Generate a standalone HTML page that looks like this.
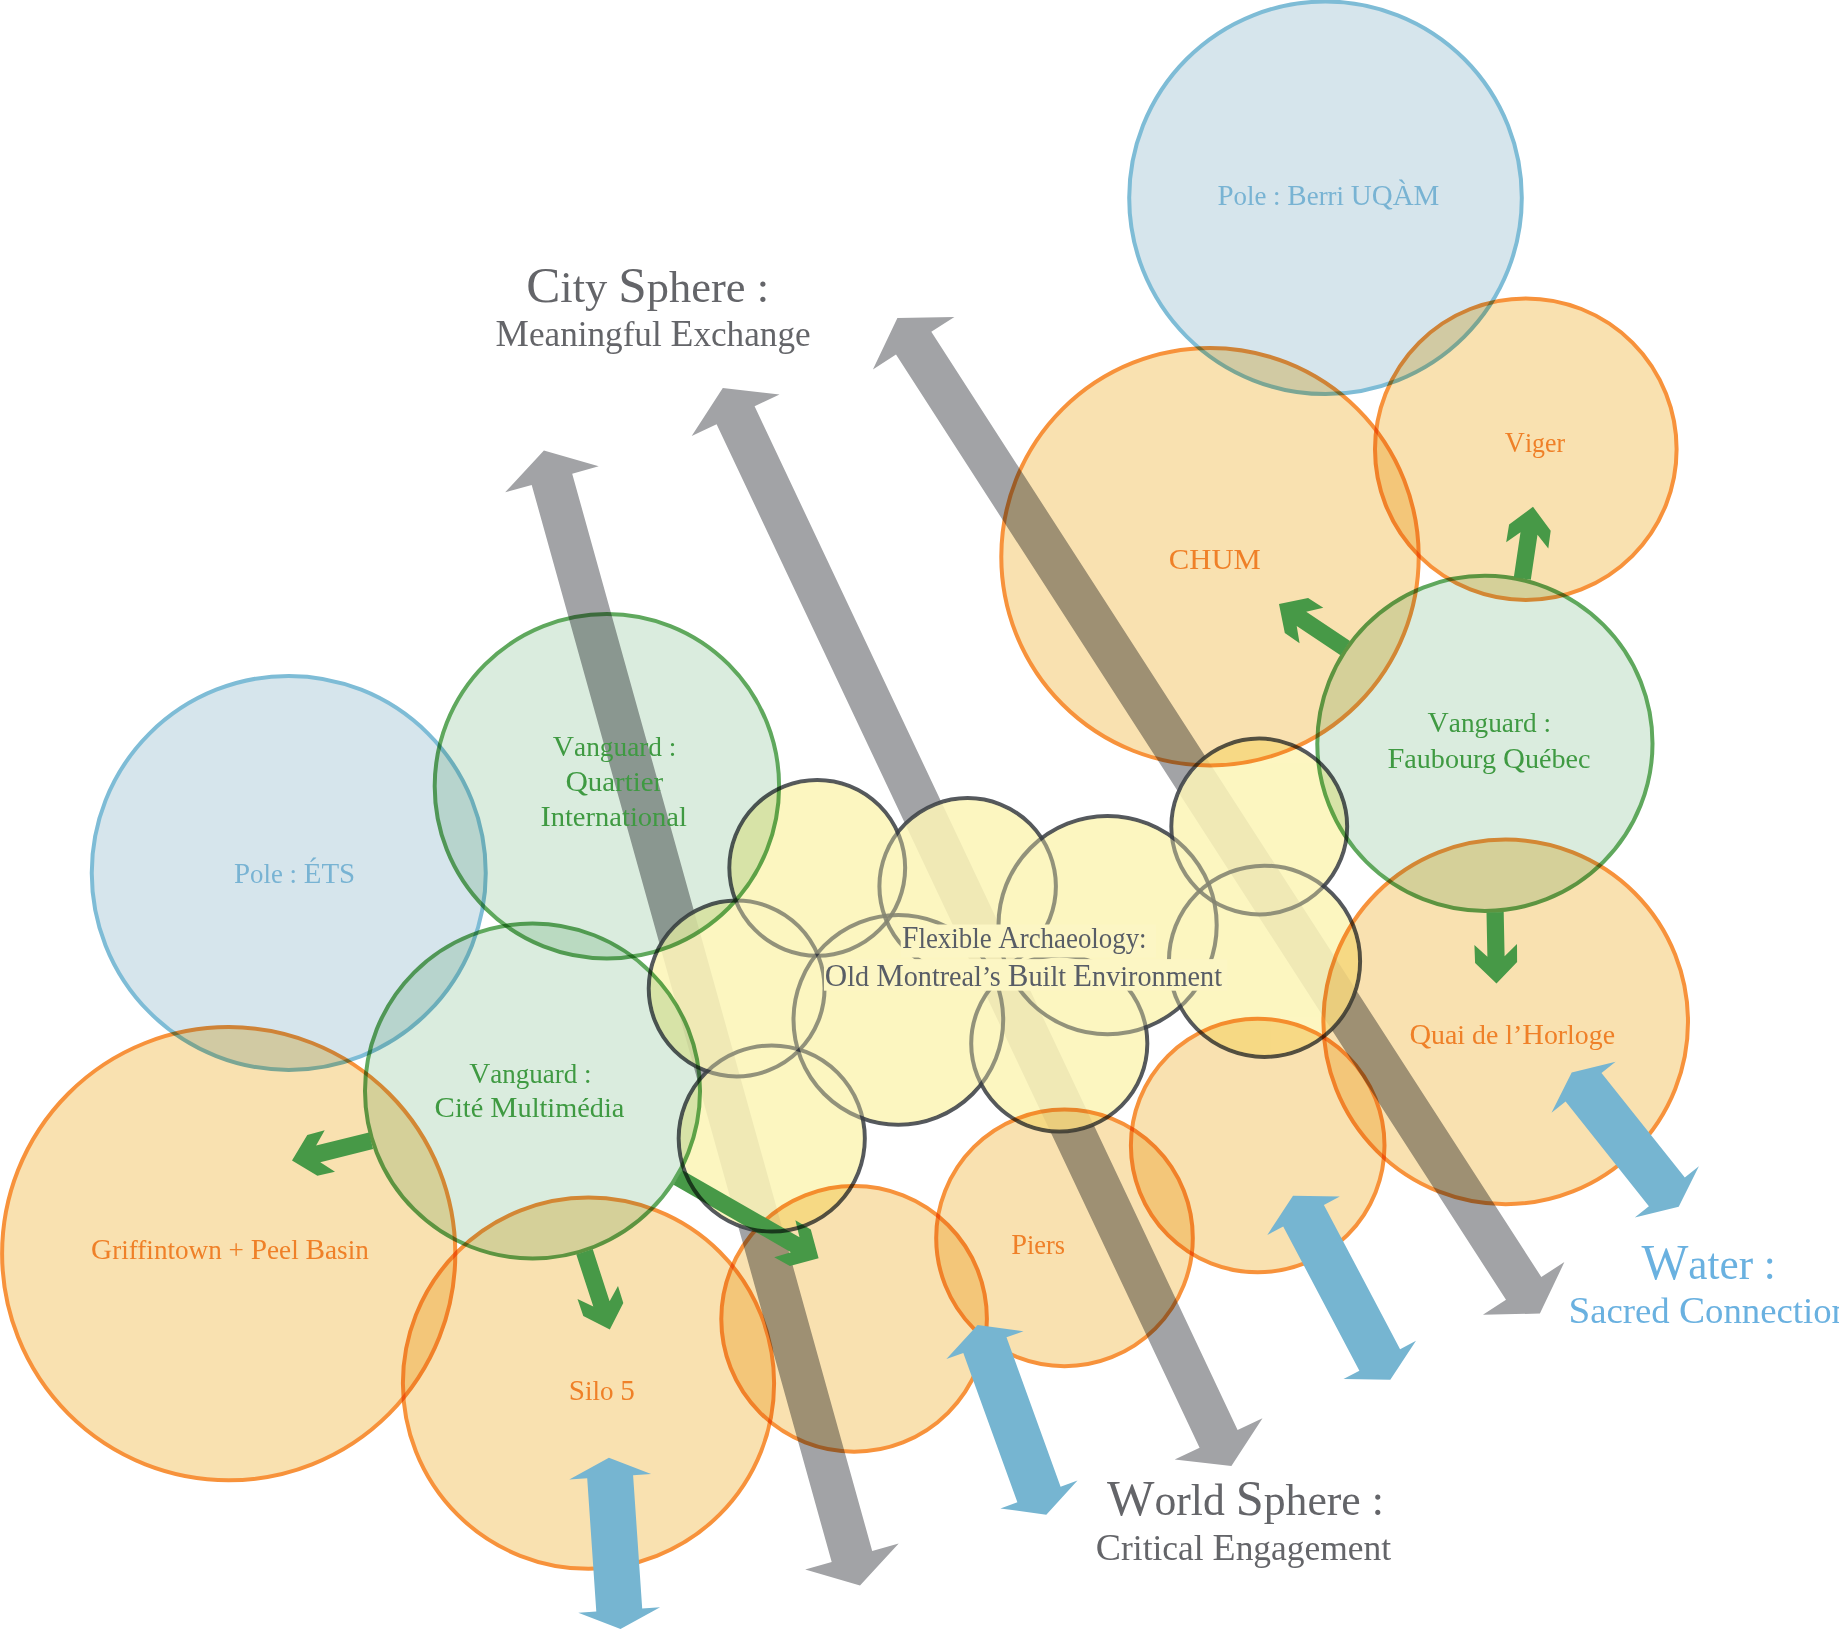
<!DOCTYPE html>
<html><head><meta charset="utf-8"><title>Flexible Archaeology</title>
<style>html,body{margin:0;padding:0;background:#fff;overflow:hidden}svg{display:block}</style></head>
<body><svg width="1839" height="1646" viewBox="0 0 1839 1646" font-family="'Liberation Serif', serif"><rect width="1839" height="1646" fill="#fff"/>
<polygon points="543.9,450.4 505.2,492.3 531.7,484.9 831.7,1562.1 805.2,1569.5 860.0,1585.4 898.7,1543.5 872.2,1550.9 572.2,473.7 598.7,466.3" fill="#A2A3A6"/>
<polygon points="722.8,388.1 691.7,435.9 716.6,424.2 1199.6,1447.8 1174.7,1459.6 1231.4,1466.0 1262.5,1418.2 1237.6,1429.9 754.6,406.3 779.5,394.5" fill="#A2A3A6"/>
<polygon points="897.4,318.0 872.9,369.5 896.0,354.6 1506.0,1299.8 1482.9,1314.7 1539.9,1313.6 1564.4,1262.1 1541.3,1277.0 931.3,331.8 954.4,316.9" fill="#A2A3A6"/>
<g opacity="0.79"><circle cx="817.25" cy="867.8" r="87.9" fill="#FCF5B8"/><circle cx="967.65" cy="886.35" r="88.25" fill="#FCF5B8"/><circle cx="1107.6" cy="925.15" r="109.1" fill="#FCF5B8"/><circle cx="1259.25" cy="826.5" r="87.9" fill="#FCF5B8"/><circle cx="1264.5" cy="961.3" r="95.6" fill="#FCF5B8"/><circle cx="736.65" cy="988.5" r="87.9" fill="#FCF5B8"/><circle cx="898.35" cy="1019.85" r="104.85" fill="#FCF5B8"/><circle cx="1059.25" cy="1043.45" r="88.05" fill="#FCF5B8"/><circle cx="771.75" cy="1138.5" r="93.05" fill="#FCF5B8"/></g>
<g><circle cx="817.25" cy="867.8" r="87.9" fill="none" stroke="#3E4248" stroke-opacity="0.88" stroke-width="4.0"/><circle cx="967.65" cy="886.35" r="88.25" fill="none" stroke="#3E4248" stroke-opacity="0.88" stroke-width="4.0"/><circle cx="1107.6" cy="925.15" r="109.1" fill="none" stroke="#3E4248" stroke-opacity="0.88" stroke-width="4.0"/><circle cx="1259.25" cy="826.5" r="87.9" fill="none" stroke="#3E4248" stroke-opacity="0.88" stroke-width="4.0"/><circle cx="1264.5" cy="961.3" r="95.6" fill="none" stroke="#3E4248" stroke-opacity="0.88" stroke-width="4.0"/><circle cx="736.65" cy="988.5" r="87.9" fill="none" stroke="#3E4248" stroke-opacity="0.88" stroke-width="4.0"/><circle cx="898.35" cy="1019.85" r="104.85" fill="none" stroke="#3E4248" stroke-opacity="0.88" stroke-width="4.0"/><circle cx="1059.25" cy="1043.45" r="88.05" fill="none" stroke="#3E4248" stroke-opacity="0.88" stroke-width="4.0"/><circle cx="771.75" cy="1138.5" r="93.05" fill="none" stroke="#3E4248" stroke-opacity="0.88" stroke-width="4.0"/></g>
<g opacity="0.37"><circle cx="817.25" cy="867.8" r="85.9" fill="#FCF5B8"/><circle cx="967.65" cy="886.35" r="86.25" fill="#FCF5B8"/><circle cx="1107.6" cy="925.15" r="107.1" fill="#FCF5B8"/><circle cx="1259.25" cy="826.5" r="85.9" fill="#FCF5B8"/><circle cx="1264.5" cy="961.3" r="93.6" fill="#FCF5B8"/><circle cx="736.65" cy="988.5" r="85.9" fill="#FCF5B8"/><circle cx="898.35" cy="1019.85" r="102.85" fill="#FCF5B8"/><circle cx="1059.25" cy="1043.45" r="86.05" fill="#FCF5B8"/><circle cx="771.75" cy="1138.5" r="91.05" fill="#FCF5B8"/></g>
<circle cx="1325.5" cy="197.8" r="196.3" fill="#D6E5EC" stroke="#7EBCD6" stroke-width="4.0" style="mix-blend-mode:multiply"/>
<circle cx="288.75" cy="872.9" r="197" fill="#D6E5EC" stroke="#7EBCD6" stroke-width="4.0" style="mix-blend-mode:multiply"/>
<circle cx="1210" cy="556.7" r="208.7" fill="#F9E1B0" stroke="#F7923B" stroke-width="4.0" style="mix-blend-mode:multiply"/>
<circle cx="1525.8" cy="449.2" r="150.8" fill="#F9E1B0" stroke="#F7923B" stroke-width="4.0" style="mix-blend-mode:multiply"/>
<circle cx="1505.7" cy="1021.9" r="182.3" fill="#F9E1B0" stroke="#F7923B" stroke-width="4.0" style="mix-blend-mode:multiply"/>
<circle cx="1257.7" cy="1145.5" r="126.8" fill="#F9E1B0" stroke="#F7923B" stroke-width="4.0" style="mix-blend-mode:multiply"/>
<circle cx="1064.5" cy="1237.9" r="128.3" fill="#F9E1B0" stroke="#F7923B" stroke-width="4.0" style="mix-blend-mode:multiply"/>
<circle cx="854.1" cy="1318.9" r="132.8" fill="#F9E1B0" stroke="#F7923B" stroke-width="4.0" style="mix-blend-mode:multiply"/>
<circle cx="588.5" cy="1383.2" r="185.6" fill="#F9E1B0" stroke="#F7923B" stroke-width="4.0" style="mix-blend-mode:multiply"/>
<circle cx="228.7" cy="1253.7" r="226.6" fill="#F9E1B0" stroke="#F7923B" stroke-width="4.0" style="mix-blend-mode:multiply"/>
<circle cx="606.9" cy="786.2" r="172.2" fill="#DAECDE" stroke="#5FA85D" stroke-width="4.0" style="mix-blend-mode:multiply"/>
<circle cx="532.5" cy="1091" r="167.5" fill="#DAECDE" stroke="#5FA85D" stroke-width="4.0" style="mix-blend-mode:multiply"/>
<circle cx="1484.9" cy="743.4" r="167.6" fill="#DAECDE" stroke="#5FA85D" stroke-width="4.0" style="mix-blend-mode:multiply"/>
<polygon points="292.0,1160.4 317.4,1175.7 335.0,1171.7 320.3,1162.2 373.1,1149.1 368.9,1132.4 316.1,1145.5 324.7,1130.3 307.3,1135.0" fill="#479947"/>
<polygon points="609.8,1329.6 623.3,1303.1 618.0,1285.9 609.6,1301.3 592.7,1249.1 576.3,1254.5 593.3,1306.6 577.5,1299.1 583.3,1316.1" fill="#479947"/>
<polygon points="818.6,1258.2 810.8,1229.5 795.4,1220.3 799.5,1237.3 682.1,1169.9 673.5,1184.8 790.9,1252.2 774.2,1257.2 789.9,1266.0" fill="#479947"/>
<polygon points="1279.0,603.9 1284.8,633.0 1299.6,643.3 1296.7,626.0 1340.5,655.2 1350.0,640.9 1306.2,611.7 1323.3,607.8 1308.1,598.1" fill="#479947"/>
<polygon points="1533.0,506.8 1509.1,524.5 1506.2,542.2 1520.5,532.2 1513.8,577.2 1530.8,579.8 1537.5,534.8 1548.3,548.5 1550.7,530.7" fill="#479947"/>
<polygon points="1496.5,983.5 1517.1,962.1 1517.0,944.1 1504.6,956.3 1503.7,912.0 1486.5,912.4 1487.4,956.7 1474.4,944.9 1475.1,962.9" fill="#479947"/>
<clipPath id="g3clip"><polygon points="818.6,1258.2 810.8,1229.5 795.4,1220.3 799.5,1237.3 682.1,1169.9 673.5,1184.8 790.9,1252.2 774.2,1257.2 789.9,1266.0"/></clipPath>
<circle cx="771.75" cy="1138.5" r="93.05" fill="none" stroke="#5A5E64" stroke-width="4.0" clip-path="url(#g3clip)" style="mix-blend-mode:multiply"/>
<polygon points="608.9,1457.8 569.3,1479.5 587.2,1478.3 596.3,1611.6 578.3,1612.8 620.5,1629.0 660.1,1607.3 642.2,1608.5 633.1,1475.2 651.1,1474.0" fill="#76B5D1"/>
<polygon points="977.6,1324.9 946.4,1359.1 963.3,1352.9 1017.4,1502.3 1000.4,1508.4 1046.3,1514.7 1077.5,1480.5 1060.6,1486.7 1006.5,1337.3 1023.5,1331.2" fill="#76B5D1"/>
<polygon points="1293.0,1195.8 1267.3,1234.9 1283.2,1226.4 1359.4,1370.7 1343.5,1379.1 1390.3,1379.8 1416.0,1340.7 1400.1,1349.2 1323.9,1204.9 1339.8,1196.5" fill="#76B5D1"/>
<polygon points="1571.7,1072.4 1551.5,1112.8 1565.6,1101.6 1648.9,1206.2 1634.8,1217.4 1678.7,1206.7 1698.9,1166.3 1684.8,1177.5 1601.5,1072.9 1615.6,1061.7" fill="#76B5D1"/>
<rect x="900.7" y="924.5" width="255.3" height="33" fill="#FCF6C4"/>
<rect x="824" y="959.1" width="403.3" height="31.6" fill="#FCF6C4"/>
<text x="1217.4" y="205" textLength="222.0" lengthAdjust="spacingAndGlyphs" fill="#78B3D3"><tspan font-size="30.3">P</tspan><tspan font-size="28.1">ole : </tspan><tspan font-size="30.3">B</tspan><tspan font-size="28.1">erri </tspan><tspan font-size="30.3">UQÀM</tspan></text>
<text x="1168.8" y="568.5" textLength="92.0" lengthAdjust="spacingAndGlyphs" fill="#EF8028"><tspan font-size="30.3">CHUM</tspan></text>
<text x="1504.8" y="451.6" textLength="60.2" lengthAdjust="spacingAndGlyphs" fill="#EF8028"><tspan font-size="30.3">V</tspan><tspan font-size="28.1">iger</tspan></text>
<text x="1427.6" y="732.4" textLength="123.4" lengthAdjust="spacingAndGlyphs" fill="#3F9A42"><tspan font-size="30.3">V</tspan><tspan font-size="28.1">anguard :</tspan></text>
<text x="1387.4" y="767.6" textLength="203.2" lengthAdjust="spacingAndGlyphs" fill="#3F9A42"><tspan font-size="30.3">F</tspan><tspan font-size="28.1">aubourg </tspan><tspan font-size="30.3">Q</tspan><tspan font-size="28.1">uébec</tspan></text>
<text x="1409.4" y="1043.7" textLength="205.6" lengthAdjust="spacingAndGlyphs" fill="#EF8028"><tspan font-size="30.3">Q</tspan><tspan font-size="28.1">uai de l’</tspan><tspan font-size="30.3">H</tspan><tspan font-size="28.1">orloge</tspan></text>
<text x="552.8" y="756.4" textLength="123.6" lengthAdjust="spacingAndGlyphs" fill="#3F9A42"><tspan font-size="30.3">V</tspan><tspan font-size="28.1">anguard :</tspan></text>
<text x="565.4" y="791.3" textLength="97.8" lengthAdjust="spacingAndGlyphs" fill="#3F9A42"><tspan font-size="30.3">Q</tspan><tspan font-size="28.1">uartier</tspan></text>
<text x="540.4" y="826.1" textLength="146.6" lengthAdjust="spacingAndGlyphs" fill="#3F9A42"><tspan font-size="30.3">I</tspan><tspan font-size="28.1">nternational</tspan></text>
<text x="234.0" y="882.7" textLength="121.2" lengthAdjust="spacingAndGlyphs" fill="#78B3D3"><tspan font-size="30.3">P</tspan><tspan font-size="28.1">ole : </tspan><tspan font-size="30.3">ÉTS</tspan></text>
<text x="469.2" y="1082.9" textLength="122.4" lengthAdjust="spacingAndGlyphs" fill="#3F9A42"><tspan font-size="30.3">V</tspan><tspan font-size="28.1">anguard :</tspan></text>
<text x="434.6" y="1117.2" textLength="189.8" lengthAdjust="spacingAndGlyphs" fill="#3F9A42"><tspan font-size="30.3">C</tspan><tspan font-size="28.1">ité </tspan><tspan font-size="30.3">M</tspan><tspan font-size="28.1">ultimédia</tspan></text>
<text x="91.0" y="1259.4" textLength="277.8" lengthAdjust="spacingAndGlyphs" fill="#EF8028"><tspan font-size="30.3">G</tspan><tspan font-size="28.1">riffintown + </tspan><tspan font-size="30.3">P</tspan><tspan font-size="28.1">eel </tspan><tspan font-size="30.3">B</tspan><tspan font-size="28.1">asin</tspan></text>
<text x="568.8" y="1400.4" textLength="66.0" lengthAdjust="spacingAndGlyphs" fill="#EF8028"><tspan font-size="30.3">S</tspan><tspan font-size="28.1">ilo </tspan><tspan font-size="30.3">5</tspan></text>
<text x="1011.2" y="1254.2" textLength="53.8" lengthAdjust="spacingAndGlyphs" fill="#EF8028"><tspan font-size="30.3">P</tspan><tspan font-size="28.1">iers</tspan></text>
<text x="902.0" y="947.9" textLength="244.6" lengthAdjust="spacingAndGlyphs" fill="#585D66"><tspan font-size="31.9">F</tspan><tspan font-size="29">lexible </tspan><tspan font-size="31.9">A</tspan><tspan font-size="29">rchaeology:</tspan></text>
<text x="824.8" y="986" textLength="397.2" lengthAdjust="spacingAndGlyphs" fill="#585D66"><tspan font-size="31.9">O</tspan><tspan font-size="29">ld </tspan><tspan font-size="31.9">M</tspan><tspan font-size="29">ontreal’s </tspan><tspan font-size="31.9">B</tspan><tspan font-size="29">uilt </tspan><tspan font-size="31.9">E</tspan><tspan font-size="29">nvironment</tspan></text>
<text x="526.2" y="301.7" textLength="242.8" lengthAdjust="spacingAndGlyphs" fill="#646569"><tspan font-size="50.2">C</tspan><tspan font-size="43.6">ity </tspan><tspan font-size="50.2">S</tspan><tspan font-size="43.6">phere :</tspan></text>
<text x="495.6" y="345.7" textLength="315.0" lengthAdjust="spacingAndGlyphs" fill="#646569"><tspan font-size="37.4">M</tspan><tspan font-size="35.1">eaningful </tspan><tspan font-size="37.4">E</tspan><tspan font-size="35.1">xchange</tspan></text>
<text x="1107.0" y="1515" textLength="276.8" lengthAdjust="spacingAndGlyphs" fill="#646569"><tspan font-size="50.2">W</tspan><tspan font-size="43.6">orld </tspan><tspan font-size="50.2">S</tspan><tspan font-size="43.6">phere :</tspan></text>
<text x="1095.8" y="1560" textLength="295.4" lengthAdjust="spacingAndGlyphs" fill="#646569"><tspan font-size="37.4">C</tspan><tspan font-size="35.1">ritical </tspan><tspan font-size="37.4">E</tspan><tspan font-size="35.1">ngagement</tspan></text>
<text x="1641.4" y="1278.6" textLength="134.4" lengthAdjust="spacingAndGlyphs" fill="#6AB1E0"><tspan font-size="50.2">W</tspan><tspan font-size="43.6">ater :</tspan></text>
<text x="1568.4" y="1322.7" textLength="281.6" lengthAdjust="spacingAndGlyphs" fill="#6AB1E0"><tspan font-size="37.4">S</tspan><tspan font-size="35.1">acred </tspan><tspan font-size="37.4">C</tspan><tspan font-size="35.1">onnection</tspan></text></svg></body></html>
